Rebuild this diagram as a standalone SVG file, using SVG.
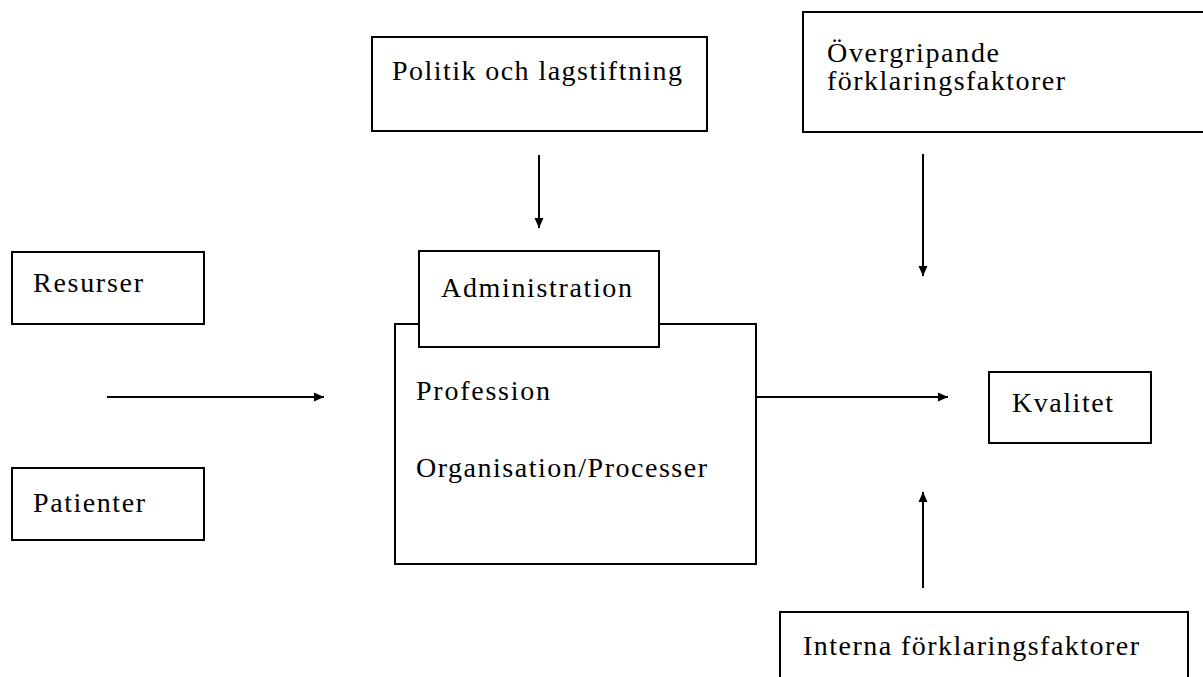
<svg xmlns="http://www.w3.org/2000/svg" width="1203" height="677" viewBox="0 0 1203 677">
<style>
.box{fill:#fff;stroke:#000;stroke-width:2}
.t{font-family:"Liberation Serif","Times New Roman",serif;font-size:28px;fill:#000}
.c{stroke:#000;stroke-width:2;fill:none;marker-end:url(#ah)}
</style>
<defs>
<marker id="ah" markerUnits="userSpaceOnUse" markerWidth="10" markerHeight="10" viewBox="0 0 10 10" refX="10" refY="5" orient="auto">
<path d="M0,0.5 L10,5 L0,9.5 Z" fill="#000"/>
</marker>
</defs>
<rect width="1203" height="677" fill="#fff"/>
<g id="politik">
<rect class="box" x="372" y="37" width="335" height="94"/>
<text class="t" x="392" y="80" textLength="290" lengthAdjust="spacing">Politik och lagstiftning</text>
</g>
<g id="overgripande">
<rect class="box" x="803" y="12" width="420" height="120"/>
<text class="t" x="827" y="62" textLength="172" lengthAdjust="spacing">Övergripande</text>
<text class="t" x="827" y="90" textLength="238" lengthAdjust="spacing">förklaringsfaktorer</text>
</g>
<g id="resurser">
<rect class="box" x="12" y="252" width="192" height="72"/>
<text class="t" x="33" y="292" textLength="110" lengthAdjust="spacing">Resurser</text>
</g>
<g id="patienter">
<rect class="box" x="12" y="468" width="192" height="72"/>
<text class="t" x="33" y="512" textLength="112" lengthAdjust="spacing">Patienter</text>
</g>
<g id="main">
<rect class="box" x="395" y="324" width="361" height="240"/>
<text class="t" x="416" y="400" textLength="134" lengthAdjust="spacing">Profession</text>
<text class="t" x="416" y="477" textLength="291" lengthAdjust="spacing">Organisation/Processer</text>
</g>
<g id="administration">
<rect class="box" x="419" y="251" width="240" height="96"/>
<text class="t" x="441" y="297" textLength="191" lengthAdjust="spacing">Administration</text>
</g>
<g id="kvalitet">
<rect class="box" x="989" y="372" width="162" height="71"/>
<text class="t" x="1012" y="412" textLength="101" lengthAdjust="spacing">Kvalitet</text>
</g>
<g id="interna">
<rect class="box" x="780" y="612" width="408" height="90"/>
<text class="t" x="803" y="655" textLength="336" lengthAdjust="spacing">Interna förklaringsfaktorer</text>
</g>
<g id="connectors">
<line class="c" x1="539" y1="155" x2="539" y2="228"/>
<line class="c" x1="923" y1="154" x2="923" y2="276"/>
<line class="c" x1="107" y1="397" x2="324" y2="397"/>
<line class="c" x1="756" y1="397" x2="948" y2="397"/>
<line class="c" x1="923" y1="588" x2="923" y2="492"/>
</g>
</svg>
